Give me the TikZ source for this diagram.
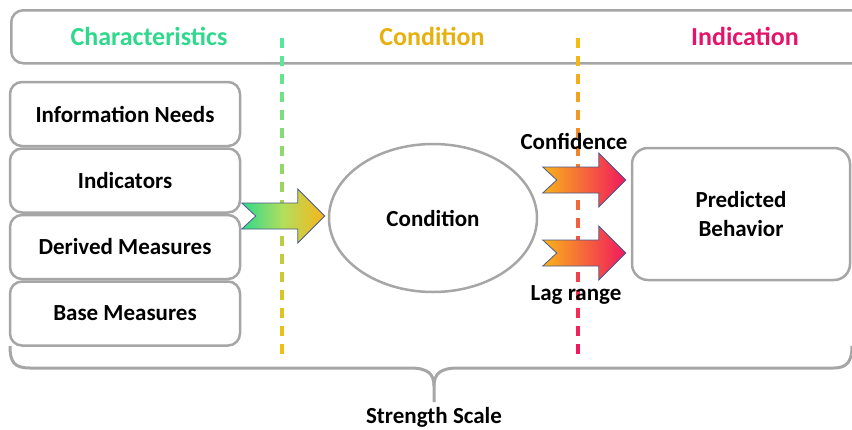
\documentclass[tikz,border=0pt]{standalone}
\usepackage{fontspec}
\setmainfont{Carlito}
\usetikzlibrary{arrows,shapes,positioning}
\usetikzlibrary{calc,shapes.geometric}

\definecolor{gris}{HTML}{A6A6A6}
\definecolor{vert}{HTML}{2FD98C}
\definecolor{vertclair}{HTML}{55E89C}
\definecolor{milieu}{HTML}{B4DE5C}
\definecolor{or}{HTML}{E6B00E}
\definecolor{jaune}{HTML}{F8B418}
\definecolor{pointille}{HTML}{F2BE14}
\definecolor{rose}{HTML}{E3156B}
\definecolor{rosevif}{HTML}{F2185E}
\definecolor{contour}{HTML}{4B5A8C}

\begin{document}
\begin{tikzpicture}[x=1pt,y=-1pt]
%styles des boites et des textes
\tikzset{boite/.style={draw=gris,line width=2.5pt,rounded corners=12pt,fill=white,minimum width=230pt,minimum height=64pt,font=\fontsize{23}{29}\selectfont\bfseries,align=center}}
\tikzset{titre/.style={font=\fontsize{26}{30}\selectfont\bfseries}}
\tikzset{texte/.style={font=\fontsize{23}{29}\selectfont\bfseries,align=center}}
\tikzset{fleche/.style={draw=contour,line width=0.8pt}} %contour des fleches
\tikzset{accolade/.style={draw=gris,line width=3pt}}
\useasboundingbox (0,0) rectangle (852,429);
\clip (0,0) rectangle (852,429);
% bandeau du haut
\node[draw=gris,line width=2.5pt,rounded corners=12pt,minimum width=870pt,minimum height=53pt,anchor=north west] (bandeau) at (10,9) {};
\node[titre,text=vert] (carac) at (149,36) {Characteristics};
\node[titre,text=or] (cond) at (432,36) {Condition};
\node[titre,text=rose] (indic) at (745,36) {Indication};
% lignes pointillees en degrade
\foreach \i in {0,...,17}{
\pgfmathtruncatemacro\p{100*\i/17}
\draw[line width=3.5pt,color=pointille!\p!vertclair] (282,38+18*\i) -- ++(0,10);
\draw[line width=3.5pt,color=rosevif!\p!pointille] (578,38+18*\i) -- ++(0,10);
}
% pile de gauche
\node[boite] (besoins) at (125,114) {Information Needs};
\node[boite,below=0pt of besoins] (indicateurs) {Indicators};
\node[boite,below=0pt of indicateurs] (derivees) {Derived Measures};
\node[boite,below=0pt of derivees] (base) {Base Measures};
\node[ellipse,draw=gris,line width=2.5pt,minimum width=208pt,minimum height=148pt,texte] (condition) at (433,218) {Condition};
\node[boite,minimum width=218pt,minimum height=132pt,rounded corners=16pt] (comportement) at (741,214) {Predicted\\Behavior};
% fleches en chevron
\shade[fleche,left color=vert,right color=jaune,middle color=milieu,shift={($(condition.west)+(-3,-2)$)}] (-83,-13) -- (-27,-13) -- (-27,-27) -- (0,0) -- (-27,27) -- (-27,13) -- (-83,13) -- (-69,0) -- cycle;
\shade[fleche,left color=jaune,right color=rosevif,shift={($(comportement.west)+(-5,-34)$)}] (-83,-13) -- (-27,-13) -- (-27,-27) -- (0,0) -- (-27,27) -- (-27,13) -- (-83,13) -- (-69,0) -- cycle;
\shade[fleche,left color=jaune,right color=rosevif,shift={($(comportement.west)+(-5,39)$)}] (-83,-13) -- (-27,-13) -- (-27,-27) -- (0,0) -- (-27,27) -- (-27,13) -- (-83,13) -- (-69,0) -- cycle;
\node[texte] (confiance) at (574,141) {Confidence};
\node[texte] (retard) at (576,295) {Lag range};
% accolade du bas
\draw[accolade] (10,346) .. controls (10,362) and (14,368) .. (30,368) -- (410,368) .. controls (428,368) and (434,374) .. (434,386) -- (434,402);
\draw[accolade] (434,386) .. controls (434,374) and (440,368) .. (458,368) -- (834,368) .. controls (848,368) and (852,360) .. (852,346);
\node[texte] (echelle) at (434,417) {Strength Scale};
\end{tikzpicture}
\end{document}
